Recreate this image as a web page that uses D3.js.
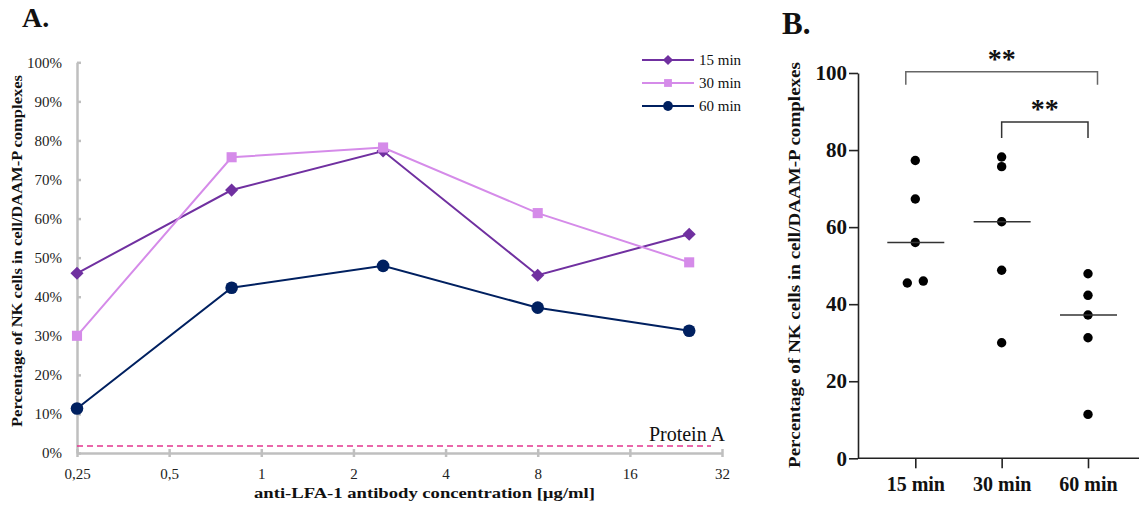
<!DOCTYPE html>
<html lang="en">
<head>
    <meta charset="UTF-8">
    <title>NK cell / DAAM-P complexes</title>
    <script src="https://d3js.org/d3.v7.min.js"></script>
    <style>
        body { margin: 0; background: #fff; }
        svg { display: block; font-family: "Liberation Serif", "Times New Roman", serif; }
        .axisA path, .axisA line { stroke: #bfbfbf; stroke-width: 2.5; }
        .axisA text { font-size: 15px; fill: #222; font-family: "Liberation Serif", serif; }
        .axisB path, .axisB line { stroke: #222; stroke-width: 1.6; }
        .axisB text { font-size: 21px; font-weight: bold; fill: #111; font-family: "Liberation Serif", serif; }
    </style>
</head>
<body>
<svg id="chart" width="1139" height="506"></svg>
<script>
    // antibody concentrations (µg/ml) used on the x axis of panel A
    const concentrations = [0.25, 0.8, 2.5, 8, 25];
    const xTicks = [0.25, 0.5, 1, 2, 4, 8, 16, 32];
    const yTicksA = [0, 10, 20, 30, 40, 50, 60, 70, 80, 90, 100];
    const yTicksB = [0, 20, 40, 60, 80, 100];

    const groups = ["15 min", "30 min", "60 min"];
    const values15 = [46.0, 67.3, 77.3, 45.5, 56.0];
    const values30 = [30.0, 75.7, 78.2, 61.4, 48.8];
    const values60 = [11.4, 42.3, 47.9, 37.2, 31.3];
    const proteinA = 1.8;

    // significance brackets in panel B
    const comparisons = [
        { from: "15 min", to: "60 min", level: 100.3, label: "**" },
        { from: "30 min", to: "60 min", level: 87.3, label: "**" }
    ];

    const seriesList = [
        { name: groups[0], values: values15, color: "#7030a0", symbol: d3.symbolDiamond2 },
        { name: groups[1], values: values30, color: "#d58be9", symbol: d3.symbolSquare2 },
        { name: groups[2], values: values60, color: "#002060", symbol: d3.symbolCircle }
    ];

    const svg = d3.select("#chart");

    // ---------- panel A ----------
    const xA = d3.scaleLog().base(2).domain([0.25, 32]).range([77, 722]);
    const yA = d3.scaleLinear().domain([0, 100]).range([453, 62.3]);

    const gA = svg.append("g");

    gA.append("g")
        .attr("class", "axisA")
        .attr("transform", "translate(0,453)")
        .call(d3.axisBottom(xA).tickValues(xTicks)
            .tickFormat(d => String(d).replace(".", ",")).tickSizeInner(4).tickSizeOuter(0).tickPadding(8))
        .call(g => g.selectAll(".tick line").attr("y1", -4))
        .call(g => g.selectAll("text").attr("dy", "0.9em"));

    gA.append("g")
        .attr("class", "axisA")
        .attr("transform", "translate(77,0)")
        .call(d3.axisLeft(yA).tickValues(yTicksA).tickFormat(d => d + "%")
            .tickSizeInner(5).tickSizeOuter(0).tickPadding(10))
        .call(g => g.selectAll(".tick line").attr("x2", 4));

    // protein A baseline
    gA.append("line")
        .attr("x1", xA(0.25)).attr("x2", 711)
        .attr("y1", yA(proteinA)).attr("y2", yA(proteinA))
        .attr("stroke", "#e4358f").attr("stroke-width", 1.5)
        .attr("stroke-dasharray", "6,4");
    gA.append("text")
        .attr("x", 725).attr("y", yA(proteinA) - 5)
        .attr("text-anchor", "end")
        .style("font-size", "20px").attr("fill", "#111")
        .text("Protein A");

    const line = d3.line()
        .x((d, i) => xA(concentrations[i]))
        .y(d => yA(d));

    const markerSize = { [groups[0]]: 110, [groups[1]]: 130, [groups[2]]: 125 };

    seriesList.forEach(s => {
        gA.append("path")
            .attr("d", line(s.values))
            .attr("fill", "none").attr("stroke", s.color).attr("stroke-width", 2);
        gA.selectAll(null)
            .data(s.values)
            .enter().append("path")
            .attr("transform", (d, i) => `translate(${xA(concentrations[i])},${yA(d)})`)
            .attr("d", d3.symbol().type(s.symbol).size(markerSize[s.name]))
            .attr("fill", s.color);
    });

    // legend
    const legend = gA.append("g").attr("transform", "translate(642,60)");
    seriesList.forEach((s, i) => {
        const row = legend.append("g").attr("transform", `translate(0,${i * 23})`);
        row.append("line").attr("x1", 0).attr("x2", 52)
            .attr("stroke", s.color).attr("stroke-width", 2);
        row.append("path")
            .attr("transform", "translate(26,0)")
            .attr("d", d3.symbol().type(s.symbol).size(markerSize[s.name] * 0.6))
            .attr("fill", s.color);
        row.append("text").attr("x", 57).attr("y", 5)
            .style("font-size", "15px").attr("fill", "#111")
            .text(s.name);
    });

    gA.append("text")
        .attr("transform", "translate(22,251) rotate(-90)")
        .attr("text-anchor", "middle")
        .attr("textLength", 352).attr("lengthAdjust", "spacingAndGlyphs")
        .style("font-size", "14px").style("font-weight", "bold").attr("fill", "#111")
        .text("Percentage of NK cells in cell/DAAM-P complexes");

    gA.append("text")
        .attr("x", 424.5).attr("y", 498)
        .attr("text-anchor", "middle")
        .attr("textLength", 341).attr("lengthAdjust", "spacingAndGlyphs")
        .style("font-size", "15px").style("font-weight", "bold").attr("fill", "#111")
        .text("anti-LFA-1 antibody concentration [µg/ml]");

    gA.append("text")
        .attr("x", 22).attr("y", 27)
        .style("font-size", "28px").style("font-weight", "bold").attr("fill", "#111")
        .text("A.");

    // ---------- panel B ----------
    const xB = d3.scalePoint().domain(groups).range([915.3, 1088]);
    const yB = d3.scaleLinear().domain([0, 100]).range([458.3, 73]);

    const gB = svg.append("g");

    gB.append("line")
        .attr("x1", 858).attr("x2", 1139)
        .attr("y1", yB(0)).attr("y2", yB(0))
        .attr("stroke", "#222").attr("stroke-width", 1.6);

    gB.append("g")
        .attr("class", "axisB")
        .attr("transform", `translate(0,${yB(0)})`)
        .call(d3.axisBottom(xB).tickSizeInner(10).tickSizeOuter(0).tickPadding(10))
        .call(g => g.select(".domain").remove())
        .call(g => g.selectAll("text").style("font-size", "20px").attr("dy", "0.66em"));

    gB.append("g")
        .attr("class", "axisB")
        .attr("transform", "translate(858,0)")
        .call(d3.axisLeft(yB).tickValues(yTicksB).tickSizeInner(9).tickSizeOuter(0).tickPadding(2));

    // dots: spread points that would overlap within a group
    const r = 4.7;
    seriesList.forEach(s => {
        const sorted = s.values.slice().sort((a, b) => a - b);
        const pts = sorted.map(v => ({ v, dx: 0 }));
        for (let i = 1; i < pts.length; i++) {
            if (Math.abs(yB(pts[i].v) - yB(pts[i - 1].v)) < r * 1.5) {
                pts[i - 1].dx = -8;
                pts[i].dx = 8;
            }
        }
        gB.selectAll(null)
            .data(pts)
            .enter().append("circle")
            .attr("cx", d => xB(s.name) + d.dx)
            .attr("cy", d => yB(d.v))
            .attr("r", r)
            .attr("fill", "#000");

        const med = d3.median(s.values);
        gB.append("line")
            .attr("x1", xB(s.name) - 28).attr("x2", xB(s.name) + 29)
            .attr("y1", yB(med)).attr("y2", yB(med))
            .attr("stroke", "#333").attr("stroke-width", 1.5);
    });

    comparisons.forEach((c, i) => {
        const pad = i === 0 ? 9.5 : 0;
        const x1 = xB(c.from) - pad, x2 = xB(c.to) + pad;
        const y = yB(c.level), legs = 13 + i * 3;
        gB.append("path")
            .attr("d", `M${x1},${y + legs}V${y}H${x2}V${y + legs}`)
            .attr("fill", "none").attr("stroke", i === 0 ? "#666" : "#333").attr("stroke-width", 1.5);
        gB.append("text")
            .attr("x", (x1 + x2) / 2).attr("y", y - 4)
            .attr("text-anchor", "middle")
            .style("font-size", "28px").style("font-weight", "bold").attr("fill", "#111")
            .text(c.label);
    });

    gB.append("text")
        .attr("transform", "translate(800,265) rotate(-90)")
        .attr("text-anchor", "middle")
        .attr("textLength", 406).attr("lengthAdjust", "spacingAndGlyphs")
        .style("font-size", "17px").style("font-weight", "bold").attr("fill", "#111")
        .text("Percentage of NK cells in cell/DAAM-P complexes");

    gB.append("text")
        .attr("x", 782).attr("y", 34)
        .style("font-size", "31px").style("font-weight", "bold").attr("fill", "#111")
        .text("B.");
</script>
</body>
</html>
